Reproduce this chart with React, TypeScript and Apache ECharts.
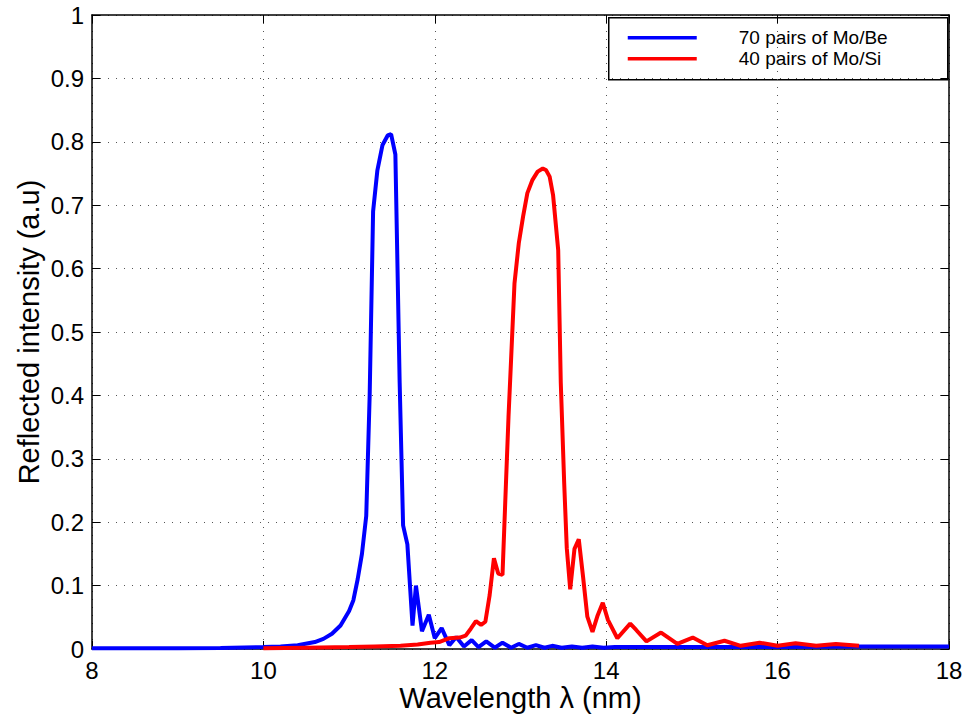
import React, { useEffect, useRef } from "react";
import * as echarts from "echarts";

const seriesNames = ["70 pairs of Mo/Be", "40 pairs of Mo/Si"];

const blueX = [8, 9, 9.5, 10, 10.2, 10.4, 10.6, 10.7, 10.8, 10.9, 11.0, 11.05, 11.1, 11.15, 11.2, 11.24, 11.28, 11.33, 11.39, 11.45, 11.49, 11.54, 11.59, 11.63, 11.68, 11.74, 11.78, 11.85, 11.93, 12.0, 12.08, 12.17, 12.25, 12.34, 12.43, 12.51, 12.6, 12.7, 12.79, 12.89, 12.98, 13.08, 13.18, 13.28, 13.37, 13.48, 13.6, 13.72, 13.84, 13.97, 14.1, 14.5, 15, 16, 17, 18];
const blueY = [0.001, 0.001, 0.0015, 0.003, 0.004, 0.006, 0.011, 0.016, 0.024, 0.037, 0.06, 0.077, 0.11, 0.15, 0.21, 0.4, 0.69, 0.755, 0.795, 0.81, 0.812, 0.78, 0.42, 0.195, 0.165, 0.037, 0.1, 0.028, 0.054, 0.017, 0.033, 0.006, 0.019, 0.004, 0.014, 0.003, 0.012, 0.002, 0.01, 0.002, 0.008, 0.002, 0.006, 0.002, 0.005, 0.002, 0.004, 0.002, 0.004, 0.002, 0.003, 0.003, 0.003, 0.003, 0.004, 0.004];

const redX = [10, 10.5, 11, 11.3, 11.6, 11.8, 11.95, 12.05, 12.17, 12.29, 12.36, 12.42, 12.48, 12.54, 12.59, 12.64, 12.69, 12.74, 12.79, 12.83, 12.86, 12.89, 12.93, 12.98, 13.03, 13.08, 13.14, 13.2, 13.26, 13.3, 13.34, 13.38, 13.44, 13.47, 13.51, 13.54, 13.58, 13.63, 13.68, 13.73, 13.78, 13.84, 13.9, 13.96, 14.02, 14.13, 14.28, 14.35, 14.47, 14.64, 14.83, 15.01, 15.18, 15.38, 15.57, 15.79, 16.0, 16.21, 16.45, 16.68, 16.95];
const redY = [0.001, 0.002, 0.003, 0.004, 0.005, 0.007, 0.01, 0.011, 0.017, 0.018, 0.021, 0.032, 0.044, 0.038, 0.043, 0.085, 0.143, 0.119, 0.117, 0.26, 0.366, 0.456, 0.577, 0.64, 0.682, 0.719, 0.74, 0.753, 0.758, 0.755, 0.745, 0.716, 0.629, 0.42, 0.261, 0.159, 0.094, 0.158, 0.173, 0.114, 0.051, 0.027, 0.053, 0.073, 0.046, 0.017, 0.04, 0.03, 0.012, 0.026, 0.008, 0.018, 0.006, 0.013, 0.005, 0.01, 0.005, 0.009, 0.005, 0.008, 0.005];

const xTitle = "Wavelength λ (nm)";
const yTitle = "Reflected intensity (a.u)";

const FONT = "'Liberation Sans', Arial, Helvetica, sans-serif";
const colors = ["#0000ff", "#ff0000"];

export default function App() {
  const ref = useRef<HTMLDivElement>(null);
  useEffect(() => {
    if (!ref.current) return;
    const chart = echarts.init(ref.current, null, { renderer: "svg" });
    const gridLine = { show: true, lineStyle: { color: "#555", width: 1, type: [1, 7] as any } };
    const axisLine = { show: true, onZero: false, lineStyle: { color: "#000", width: 1.5 } };
    const tick = { show: true, inside: true, length: 8, lineStyle: { color: "#000", width: 1 } };
    chart.setOption({
      animation: false,
      backgroundColor: "#fff",
      grid: { left: 92, right: 17, top: 15, bottom: 65, containLabel: false, outerBoundsMode: "none" },
      xAxis: [
        {
          type: "value", min: 8, max: 18, interval: 2, position: "bottom",
          axisLine, axisTick: tick, splitLine: gridLine,
          axisLabel: { color: "#000", fontSize: 24, fontFamily: FONT, margin: 9 },
          name: xTitle, nameLocation: "middle", nameGap: 33, nameMoveOverlap: false,
          nameTextStyle: { color: "#000", fontSize: 29, fontFamily: FONT, lineHeight: 32 },
        },
        {
          type: "value", min: 8, max: 18, interval: 2, position: "top",
          axisLine, axisTick: tick, splitLine: { show: false }, axisLabel: { show: false },
        },
      ],
      yAxis: [
        {
          type: "value", min: 0, max: 1, interval: 0.1, position: "left",
          axisLine, axisTick: tick, splitLine: gridLine,
          axisLabel: { color: "#000", fontSize: 24, fontFamily: FONT, margin: 8 },
          name: yTitle, nameLocation: "middle", nameGap: 49, nameRotate: 90, nameMoveOverlap: false,
          nameTextStyle: { color: "#000", fontSize: 29, fontFamily: FONT },
        },
        {
          type: "value", min: 0, max: 1, interval: 0.1, position: "right",
          axisLine, axisTick: tick, splitLine: { show: false }, axisLabel: { show: false },
        },
      ],
      series: [
        {
          name: seriesNames[0], type: "line", showSymbol: false, symbol: "none",
          data: blueX.map((x, i) => [x, blueY[i]]),
          lineStyle: { color: colors[0], width: 4 }, itemStyle: { color: colors[0] },
          z: 3,
        },
        {
          name: seriesNames[1], type: "line", showSymbol: false, symbol: "none",
          data: redX.map((x, i) => [x, redY[i]]),
          lineStyle: { color: colors[1], width: 4 }, itemStyle: { color: colors[1] },
          z: 4,
        },
      ],
      graphic: [
        {
          type: "group", left: 608, top: 17, z: 100,
          children: [
            { type: "rect", shape: { x: 0, y: 0, width: 339, height: 62 }, style: { fill: "#fff", stroke: "#000", lineWidth: 1.5 } },
            ...seriesNames.flatMap((n, i) => [
              { type: "line", shape: { x1: 19, y1: 20 + i * 21, x2: 88, y2: 20 + i * 21 }, style: { stroke: colors[i], lineWidth: 3.5 } },
              { type: "text", x: 130, y: 20 + i * 21, style: { text: n, fill: "#000", font: `19px ${FONT}`, textVerticalAlign: "middle", verticalAlign: "middle" } },
            ]),
          ],
        },
      ],
    });
    return () => chart.dispose();
  }, []);
  return <div ref={ref} style={{ position: "fixed", left: 0, top: 0, width: 966, height: 714, background: "#fff" }} />;
}
